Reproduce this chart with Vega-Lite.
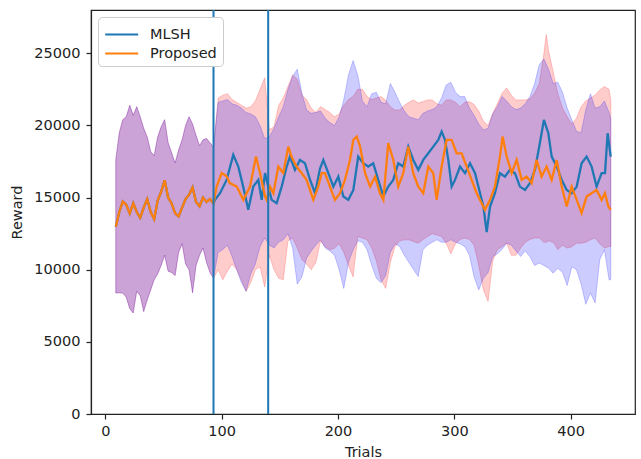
{
  "$schema": "https://vega.github.io/schema/vega-lite/v6.json",
  "width": 544,
  "height": 404,
  "autosize": {"type": "none"},
  "padding": {"left": 91, "top": 10, "right": 6, "bottom": 45},
  "background": "white",
  "datasets": {
    "bandP": [
      {"x":9,"lo":8380,"hi":17610},{"x":12,"lo":8400,"hi":19500},{"x":15,"lo":8380,"hi":20400},{"x":18,"lo":8100,"hi":20600},{"x":21,"lo":7300,"hi":21400},{"x":24,"lo":7000,"hi":20700},{"x":27,"lo":8500,"hi":21300},{"x":30,"lo":8200,"hi":20600},{"x":33,"lo":7100,"hi":19800},{"x":36,"lo":7900,"hi":19200},{"x":39,"lo":8600,"hi":18200},{"x":42,"lo":9300,"hi":17900},{"x":45,"lo":9700,"hi":19200},{"x":48,"lo":10300,"hi":19900},{"x":51,"lo":11000,"hi":20400},{"x":54,"lo":9900,"hi":18800},{"x":57,"lo":9800,"hi":18100},{"x":60,"lo":9600,"hi":17400},{"x":63,"lo":11200,"hi":18300},{"x":66,"lo":11800,"hi":19000},{"x":69,"lo":10400,"hi":20000},{"x":72,"lo":10000,"hi":20600},{"x":75,"lo":8400,"hi":20100},{"x":78,"lo":10300,"hi":19300},{"x":81,"lo":11000,"hi":18600},{"x":84,"lo":11500,"hi":19000},{"x":87,"lo":10500,"hi":19100},{"x":90,"lo":9800,"hi":18800},{"x":93,"lo":9400,"hi":18500},
      {"x":97,"lo":10000,"hi":21900},{"x":101,"lo":9300,"hi":22100},{"x":105,"lo":9900,"hi":22200},{"x":109,"lo":10400,"hi":21800},{"x":113,"lo":10000,"hi":21600},{"x":117,"lo":9300,"hi":21400},{"x":121,"lo":8500,"hi":21200},{"x":125,"lo":9100,"hi":21300},{"x":129,"lo":10000,"hi":21700},{"x":133,"lo":10200,"hi":22500},{"x":137,"lo":8800,"hi":23300},{"x":141,"lo":11000,"hi":19700},{"x":145,"lo":10000,"hi":19900},{"x":149,"lo":9400,"hi":21400},{"x":153,"lo":9300,"hi":21900},{"x":157,"lo":12000,"hi":22700},{"x":161,"lo":12200,"hi":23500},{"x":165,"lo":11500,"hi":23200},{"x":169,"lo":10700,"hi":22100},{"x":173,"lo":10400,"hi":21800},{"x":177,"lo":10000,"hi":21200},{"x":181,"lo":10500,"hi":20900},{"x":185,"lo":12000,"hi":21300},{"x":189,"lo":11600,"hi":21100},{"x":193,"lo":11380,"hi":20900},{"x":197,"lo":11500,"hi":20600},{"x":201,"lo":11800,"hi":20800},{"x":205,"lo":11200,"hi":21400},{"x":209,"lo":10300,"hi":21800},{"x":213,"lo":9500,"hi":22000},{"x":217,"lo":12300,"hi":22500},{"x":221,"lo":12200,"hi":22500},{"x":225,"lo":12070,"hi":22000},{"x":229,"lo":11500,"hi":21800},{"x":233,"lo":10600,"hi":21900},{"x":237,"lo":9300,"hi":22000},{"x":241,"lo":8700,"hi":21750},{"x":245,"lo":10500,"hi":21300},{"x":249,"lo":11600,"hi":21070},{"x":253,"lo":12000,"hi":21070},{"x":257,"lo":12070,"hi":21400},{"x":261,"lo":12070,"hi":21600},{"x":265,"lo":11950,"hi":21770},{"x":269,"lo":11840,"hi":21550},{"x":273,"lo":12070,"hi":21650},{"x":277,"lo":12300,"hi":21770},{"x":281,"lo":12500,"hi":21770},{"x":285,"lo":12400,"hi":21500},{"x":289,"lo":12300,"hi":21400},{"x":293,"lo":11840,"hi":21770},{"x":297,"lo":11100,"hi":21770},{"x":301,"lo":11800,"hi":21600},{"x":305,"lo":12100,"hi":21300},{"x":309,"lo":12200,"hi":21600},{"x":313,"lo":12100,"hi":21650},{"x":317,"lo":11700,"hi":21450},{"x":321,"lo":10300,"hi":21000},{"x":325,"lo":8600,"hi":20300},{"x":329,"lo":7800,"hi":20000},{"x":333,"lo":10600,"hi":20840},{"x":337,"lo":11400,"hi":21500},{"x":341,"lo":11600,"hi":22230},{"x":345,"lo":11840,"hi":22600},{"x":349,"lo":11000,"hi":22100},{"x":353,"lo":11000,"hi":21770},{"x":357,"lo":11500,"hi":21770},{"x":361,"lo":11900,"hi":21770},{"x":365,"lo":12100,"hi":21850},{"x":369,"lo":12200,"hi":22230},{"x":373,"lo":12200,"hi":22900},{"x":377,"lo":11900,"hi":25000},{"x":379,"lo":11900,"hi":26300},{"x":381,"lo":12000,"hi":25200},{"x":385,"lo":11900,"hi":23700},{"x":389,"lo":11400,"hi":22200},{"x":393,"lo":11700,"hi":21200},{"x":397,"lo":11500,"hi":20600},{"x":401,"lo":11600,"hi":20100},{"x":405,"lo":11840,"hi":20500},{"x":409,"lo":11840,"hi":21300},{"x":413,"lo":11900,"hi":21700},{"x":417,"lo":12070,"hi":21900},{"x":421,"lo":12200,"hi":22100},{"x":425,"lo":11800,"hi":22460},{"x":429,"lo":11500,"hi":22700},{"x":433,"lo":11610,"hi":22500},{"x":434.5,"lo":11610,"hi":21770}
    ],
    "bandM": [
      {"x":9,"lo":8380,"hi":17610},{"x":12,"lo":8400,"hi":19500},{"x":15,"lo":8380,"hi":20400},{"x":18,"lo":8100,"hi":20600},{"x":21,"lo":7300,"hi":21400},{"x":24,"lo":7000,"hi":20700},{"x":27,"lo":8500,"hi":21300},{"x":30,"lo":8200,"hi":20600},{"x":33,"lo":7100,"hi":19800},{"x":36,"lo":7900,"hi":19200},{"x":39,"lo":8600,"hi":18200},{"x":42,"lo":9300,"hi":17900},{"x":45,"lo":9700,"hi":19200},{"x":48,"lo":10300,"hi":19900},{"x":51,"lo":11000,"hi":20400},{"x":54,"lo":9900,"hi":18800},{"x":57,"lo":9800,"hi":18100},{"x":60,"lo":9600,"hi":17400},{"x":63,"lo":11200,"hi":18300},{"x":66,"lo":11800,"hi":19000},{"x":69,"lo":10400,"hi":20000},{"x":72,"lo":10000,"hi":20600},{"x":75,"lo":8400,"hi":20100},{"x":78,"lo":10300,"hi":19300},{"x":81,"lo":11000,"hi":18600},{"x":84,"lo":11500,"hi":19000},{"x":87,"lo":10500,"hi":19100},{"x":90,"lo":9800,"hi":18800},{"x":93,"lo":9400,"hi":18500},
      {"x":97,"lo":11200,"hi":21600},{"x":101,"lo":11400,"hi":21700},{"x":105,"lo":11700,"hi":21800},{"x":109,"lo":10900,"hi":21500},{"x":113,"lo":10000,"hi":21400},{"x":117,"lo":9100,"hi":21200},{"x":121,"lo":8500,"hi":20900},{"x":125,"lo":9700,"hi":20800},{"x":129,"lo":10400,"hi":20600},{"x":133,"lo":11600,"hi":20000},{"x":137,"lo":12200,"hi":19100},{"x":141,"lo":11700,"hi":19200},{"x":145,"lo":11500,"hi":19800},{"x":149,"lo":11900,"hi":20600},{"x":153,"lo":12070,"hi":21300},{"x":157,"lo":12500,"hi":22500},{"x":161,"lo":11500,"hi":23400},{"x":165,"lo":9000,"hi":23900},{"x":169,"lo":9500,"hi":22230},{"x":173,"lo":10800,"hi":21070},{"x":177,"lo":11300,"hi":20840},{"x":181,"lo":11700,"hi":20900},{"x":185,"lo":12070,"hi":21000},{"x":189,"lo":11500,"hi":20500},{"x":193,"lo":11300,"hi":20200},{"x":197,"lo":11000,"hi":20000},{"x":201,"lo":10000,"hi":20600},{"x":205,"lo":8700,"hi":21800},{"x":209,"lo":10500,"hi":23500},{"x":213,"lo":11380,"hi":24500},{"x":217,"lo":12000,"hi":23500},{"x":221,"lo":11900,"hi":21700},{"x":225,"lo":11380,"hi":21300},{"x":229,"lo":10300,"hi":22200},{"x":233,"lo":9400,"hi":22300},{"x":237,"lo":9100,"hi":21600},{"x":241,"lo":9600,"hi":21500},{"x":245,"lo":11200,"hi":22900},{"x":249,"lo":11800,"hi":22300},{"x":253,"lo":11610,"hi":21600},{"x":257,"lo":11000,"hi":21000},{"x":261,"lo":10500,"hi":20600},{"x":265,"lo":9990,"hi":20500},{"x":269,"lo":9530,"hi":20400},{"x":273,"lo":11380,"hi":20840},{"x":277,"lo":11700,"hi":21000},{"x":281,"lo":11900,"hi":21100},{"x":285,"lo":12070,"hi":21300},{"x":289,"lo":11900,"hi":21900},{"x":293,"lo":11900,"hi":22800},{"x":297,"lo":12070,"hi":23000},{"x":301,"lo":11900,"hi":22300},{"x":305,"lo":11800,"hi":22000},{"x":309,"lo":11600,"hi":22000},{"x":313,"lo":11000,"hi":21200},{"x":317,"lo":9500,"hi":20700},{"x":321,"lo":8600,"hi":20100},{"x":325,"lo":9400,"hi":19690},{"x":329,"lo":9800,"hi":19800},{"x":333,"lo":10900,"hi":20800},{"x":337,"lo":11100,"hi":21300},{"x":341,"lo":11400,"hi":22000},{"x":345,"lo":11840,"hi":21700},{"x":349,"lo":11700,"hi":21300},{"x":353,"lo":11300,"hi":21100},{"x":357,"lo":10920,"hi":21200},{"x":361,"lo":11300,"hi":21500},{"x":365,"lo":10900,"hi":22000},{"x":369,"lo":10300,"hi":22900},{"x":373,"lo":10460,"hi":24200},{"x":377,"lo":10300,"hi":24600},{"x":381,"lo":10100,"hi":23900},{"x":385,"lo":9760,"hi":22900},{"x":389,"lo":10100,"hi":23000},{"x":393,"lo":9800,"hi":22300},{"x":397,"lo":8900,"hi":21200},{"x":401,"lo":10200,"hi":20400},{"x":405,"lo":10000,"hi":19600},{"x":409,"lo":9000,"hi":19500},{"x":413,"lo":7600,"hi":21100},{"x":417,"lo":8380,"hi":22200},{"x":421,"lo":7690,"hi":21200},{"x":425,"lo":10690,"hi":21300},{"x":429,"lo":11380,"hi":21700},{"x":433,"lo":9300,"hi":20900},{"x":434.5,"lo":9300,"hi":20500}
    ],
    "lines": [
      {"s":"MLSH","x":9,"v":12970},{"s":"MLSH","x":12,"v":14000},{"s":"MLSH","x":15,"v":14720},{"s":"MLSH","x":18,"v":14500},{"s":"MLSH","x":21,"v":13900},{"s":"MLSH","x":24,"v":14600},{"s":"MLSH","x":27,"v":14000},{"s":"MLSH","x":30,"v":13600},{"s":"MLSH","x":33,"v":14300},{"s":"MLSH","x":36,"v":14900},{"s":"MLSH","x":39,"v":14000},{"s":"MLSH","x":42,"v":13500},{"s":"MLSH","x":45,"v":14800},{"s":"MLSH","x":48,"v":15400},{"s":"MLSH","x":51,"v":16200},{"s":"MLSH","x":54,"v":15000},{"s":"MLSH","x":57,"v":14600},{"s":"MLSH","x":60,"v":13900},{"s":"MLSH","x":63,"v":13700},{"s":"MLSH","x":66,"v":14300},{"s":"MLSH","x":69,"v":14900},{"s":"MLSH","x":72,"v":15200},{"s":"MLSH","x":75,"v":15700},{"s":"MLSH","x":78,"v":14700},{"s":"MLSH","x":81,"v":14400},{"s":"MLSH","x":84,"v":15000},{"s":"MLSH","x":87,"v":14700},{"s":"MLSH","x":90,"v":14900},{"s":"MLSH","x":93,"v":14600},
      {"s":"MLSH","x":94.3,"v":14840},{"s":"MLSH","x":98.6,"v":15300},{"s":"MLSH","x":104.3,"v":16225},{"s":"MLSH","x":110,"v":17960},{"s":"MLSH","x":114.3,"v":17150},{"s":"MLSH","x":118.5,"v":15760},{"s":"MLSH","x":122.9,"v":14150},{"s":"MLSH","x":127.2,"v":15760},{"s":"MLSH","x":131.5,"v":16225},{"s":"MLSH","x":134.4,"v":14840},{"s":"MLSH","x":137.3,"v":16700},{"s":"MLSH","x":140,"v":15760},{"s":"MLSH","x":143,"v":14840},{"s":"MLSH","x":147.3,"v":14610},{"s":"MLSH","x":151.6,"v":15760},{"s":"MLSH","x":155.9,"v":17150},{"s":"MLSH","x":158.7,"v":17840},{"s":"MLSH","x":163,"v":16920},{"s":"MLSH","x":167.3,"v":17610},{"s":"MLSH","x":171.6,"v":17380},{"s":"MLSH","x":176,"v":16225},{"s":"MLSH","x":180.3,"v":15300},{"s":"MLSH","x":184.5,"v":17000},{"s":"MLSH","x":187.4,"v":17610},{"s":"MLSH","x":191.7,"v":16690},{"s":"MLSH","x":196,"v":15760},{"s":"MLSH","x":200.3,"v":16450},{"s":"MLSH","x":204.6,"v":15070},{"s":"MLSH","x":208.9,"v":14840},{"s":"MLSH","x":213.2,"v":15530},{"s":"MLSH","x":217.4,"v":17840},{"s":"MLSH","x":221.7,"v":17380},{"s":"MLSH","x":226,"v":17150},{"s":"MLSH","x":230.3,"v":17380},{"s":"MLSH","x":234.6,"v":16225},{"s":"MLSH","x":238.9,"v":15070},{"s":"MLSH","x":243.2,"v":15760},{"s":"MLSH","x":247.5,"v":16225},{"s":"MLSH","x":251.8,"v":17380},{"s":"MLSH","x":256.1,"v":17150},{"s":"MLSH","x":260.4,"v":18530},{"s":"MLSH","x":264.7,"v":17610},{"s":"MLSH","x":269,"v":16920},{"s":"MLSH","x":273.3,"v":17610},{"s":"MLSH","x":277.6,"v":18070},{"s":"MLSH","x":281.9,"v":18530},{"s":"MLSH","x":286.2,"v":19000},{"s":"MLSH","x":289.1,"v":19570},{"s":"MLSH","x":292,"v":19000},{"s":"MLSH","x":294.8,"v":17610},{"s":"MLSH","x":297.7,"v":15760},{"s":"MLSH","x":300.6,"v":16225},{"s":"MLSH","x":304.9,"v":17150},{"s":"MLSH","x":309.2,"v":16690},{"s":"MLSH","x":313.5,"v":17380},{"s":"MLSH","x":317.8,"v":16690},{"s":"MLSH","x":322.1,"v":15300},{"s":"MLSH","x":325,"v":14380},{"s":"MLSH","x":327.8,"v":12600},{"s":"MLSH","x":330.7,"v":14380},{"s":"MLSH","x":334.9,"v":15300},{"s":"MLSH","x":339.2,"v":16690},{"s":"MLSH","x":343.5,"v":16450},{"s":"MLSH","x":347.8,"v":16920},{"s":"MLSH","x":352.1,"v":16690},{"s":"MLSH","x":356.4,"v":15760},{"s":"MLSH","x":360.7,"v":15530},{"s":"MLSH","x":365,"v":16000},{"s":"MLSH","x":369.3,"v":16920},{"s":"MLSH","x":373.5,"v":18770},{"s":"MLSH","x":377,"v":20380},{"s":"MLSH","x":380.8,"v":19460},{"s":"MLSH","x":383.7,"v":17840},{"s":"MLSH","x":388,"v":17150},{"s":"MLSH","x":392.3,"v":16225},{"s":"MLSH","x":396.6,"v":15530},{"s":"MLSH","x":400.9,"v":15300},{"s":"MLSH","x":405.2,"v":15760},{"s":"MLSH","x":409.4,"v":17380},{"s":"MLSH","x":413.7,"v":17840},{"s":"MLSH","x":418,"v":17150},{"s":"MLSH","x":422.3,"v":15760},{"s":"MLSH","x":426.6,"v":16690},{"s":"MLSH","x":429.5,"v":16690},{"s":"MLSH","x":431.8,"v":19460},{"s":"MLSH","x":434.4,"v":17840},
      {"s":"Proposed","x":9,"v":12970},{"s":"Proposed","x":12,"v":14000},{"s":"Proposed","x":15,"v":14720},{"s":"Proposed","x":18,"v":14500},{"s":"Proposed","x":21,"v":13900},{"s":"Proposed","x":24,"v":14600},{"s":"Proposed","x":27,"v":14000},{"s":"Proposed","x":30,"v":13600},{"s":"Proposed","x":33,"v":14300},{"s":"Proposed","x":36,"v":14900},{"s":"Proposed","x":39,"v":14000},{"s":"Proposed","x":42,"v":13500},{"s":"Proposed","x":45,"v":14800},{"s":"Proposed","x":48,"v":15400},{"s":"Proposed","x":51,"v":16200},{"s":"Proposed","x":54,"v":15000},{"s":"Proposed","x":57,"v":14600},{"s":"Proposed","x":60,"v":13900},{"s":"Proposed","x":63,"v":13700},{"s":"Proposed","x":66,"v":14300},{"s":"Proposed","x":69,"v":14900},{"s":"Proposed","x":72,"v":15200},{"s":"Proposed","x":75,"v":15700},{"s":"Proposed","x":78,"v":14700},{"s":"Proposed","x":81,"v":14400},{"s":"Proposed","x":84,"v":15000},{"s":"Proposed","x":87,"v":14700},{"s":"Proposed","x":90,"v":14900},{"s":"Proposed","x":93,"v":14600},
      {"s":"Proposed","x":95.7,"v":15760},{"s":"Proposed","x":100,"v":16700},{"s":"Proposed","x":104.3,"v":16470},{"s":"Proposed","x":107,"v":16000},{"s":"Proposed","x":113,"v":15760},{"s":"Proposed","x":118.6,"v":14840},{"s":"Proposed","x":124.4,"v":15760},{"s":"Proposed","x":129.5,"v":17840},{"s":"Proposed","x":133,"v":16700},{"s":"Proposed","x":137.3,"v":15070},{"s":"Proposed","x":138.7,"v":14840},{"s":"Proposed","x":141.6,"v":15760},{"s":"Proposed","x":144.5,"v":15300},{"s":"Proposed","x":148.7,"v":17150},{"s":"Proposed","x":153,"v":16700},{"s":"Proposed","x":157.3,"v":18530},{"s":"Proposed","x":160,"v":17840},{"s":"Proposed","x":164.4,"v":17150},{"s":"Proposed","x":168.7,"v":16700},{"s":"Proposed","x":173,"v":16225},{"s":"Proposed","x":178.8,"v":14840},{"s":"Proposed","x":183,"v":15760},{"s":"Proposed","x":186,"v":16690},{"s":"Proposed","x":188.8,"v":16690},{"s":"Proposed","x":193.1,"v":15760},{"s":"Proposed","x":197.4,"v":14840},{"s":"Proposed","x":201.7,"v":15300},{"s":"Proposed","x":206,"v":16225},{"s":"Proposed","x":210.3,"v":17610},{"s":"Proposed","x":213.2,"v":19000},{"s":"Proposed","x":216.1,"v":19230},{"s":"Proposed","x":219,"v":18530},{"s":"Proposed","x":223.3,"v":16690},{"s":"Proposed","x":227.6,"v":15760},{"s":"Proposed","x":231.9,"v":16450},{"s":"Proposed","x":236.1,"v":15300},{"s":"Proposed","x":239,"v":14840},{"s":"Proposed","x":243.2,"v":18770},{"s":"Proposed","x":247.5,"v":17610},{"s":"Proposed","x":251.8,"v":15760},{"s":"Proposed","x":256.1,"v":16690},{"s":"Proposed","x":260.4,"v":18530},{"s":"Proposed","x":264.7,"v":16690},{"s":"Proposed","x":269,"v":15760},{"s":"Proposed","x":273.3,"v":15300},{"s":"Proposed","x":277.6,"v":17150},{"s":"Proposed","x":281.9,"v":16690},{"s":"Proposed","x":284.8,"v":14840},{"s":"Proposed","x":289.1,"v":17150},{"s":"Proposed","x":293.4,"v":19000},{"s":"Proposed","x":297.7,"v":19000},{"s":"Proposed","x":302,"v":18070},{"s":"Proposed","x":306.3,"v":18070},{"s":"Proposed","x":310.6,"v":17150},{"s":"Proposed","x":314.9,"v":16225},{"s":"Proposed","x":319.2,"v":15300},{"s":"Proposed","x":323.5,"v":14610},{"s":"Proposed","x":326.3,"v":14150},{"s":"Proposed","x":330.7,"v":14840},{"s":"Proposed","x":334.9,"v":15760},{"s":"Proposed","x":339.2,"v":17840},{"s":"Proposed","x":341.5,"v":19230},{"s":"Proposed","x":345,"v":17840},{"s":"Proposed","x":349.3,"v":16690},{"s":"Proposed","x":353.6,"v":17610},{"s":"Proposed","x":357.9,"v":16225},{"s":"Proposed","x":362.2,"v":16450},{"s":"Proposed","x":366.5,"v":16000},{"s":"Proposed","x":370.7,"v":17610},{"s":"Proposed","x":375,"v":16450},{"s":"Proposed","x":379.3,"v":17150},{"s":"Proposed","x":383.7,"v":16225},{"s":"Proposed","x":388,"v":17610},{"s":"Proposed","x":392.3,"v":15760},{"s":"Proposed","x":396.6,"v":14380},{"s":"Proposed","x":400.9,"v":15760},{"s":"Proposed","x":405.2,"v":14840},{"s":"Proposed","x":409.4,"v":13920},{"s":"Proposed","x":413.7,"v":15070},{"s":"Proposed","x":418,"v":15300},{"s":"Proposed","x":422.3,"v":15530},{"s":"Proposed","x":426.6,"v":14840},{"s":"Proposed","x":429.5,"v":15300},{"s":"Proposed","x":432.4,"v":14380},{"s":"Proposed","x":434.4,"v":14150}
    ],
    "vlines": [{"t": 93}, {"t": 140}]
  },
  "layer": [
    {
      "data": {"name": "bandP"},
      "mark": {"type": "area", "fill": "#ff0000", "fillOpacity": 0.2, "stroke": "#ff0000", "strokeOpacity": 0.2, "strokeWidth": 1},
      "encoding": {
        "x": {"field": "x", "type": "quantitative", "scale": {"domain": [-12.3, 455.3], "nice": false, "zero": false}, "axis": {"values": [0, 100, 200, 300, 400], "title": "Trials"}},
        "y": {"field": "lo", "type": "quantitative", "scale": {"domain": [0, 28000], "nice": false}, "axis": {"values": [0, 5000, 10000, 15000, 20000, 25000], "format": "d", "title": "Reward"}},
        "y2": {"field": "hi"}
      }
    },
    {
      "data": {"name": "bandM"},
      "mark": {"type": "area", "fill": "#0000ff", "fillOpacity": 0.2, "stroke": "#0000ff", "strokeOpacity": 0.2, "strokeWidth": 1},
      "encoding": {
        "x": {"field": "x", "type": "quantitative", "title": "Trials"},
        "y": {"field": "lo", "type": "quantitative", "title": "Reward"},
        "y2": {"field": "hi"}
      }
    },
    {
      "data": {"name": "lines"},
      "mark": {"type": "line", "strokeWidth": 2.3},
      "encoding": {
        "x": {"field": "x", "type": "quantitative", "title": "Trials"},
        "y": {"field": "v", "type": "quantitative", "title": "Reward"},
        "color": {
          "field": "s", "type": "nominal",
          "scale": {"domain": ["MLSH", "Proposed"], "range": ["#1f77b4", "#ff7f0e"]},
          "legend": {"title": null, "orient": "top-left", "offset": 7, "symbolType": "M-1,0H2.2", "symbolSize": 425, "symbolStrokeWidth": 2.2, "labelFontSize": 14.5, "labelOffset": 23, "fillColor": "white", "strokeColor": "#cccccc", "cornerRadius": 4, "padding": 6, "rowPadding": 1, "labelColor": "#222222", "labelFont": "DejaVu Sans"}
        }
      }
    },
    {
      "data": {"name": "vlines"},
      "mark": {"type": "rule", "color": "#1f77b4", "strokeWidth": 2},
      "encoding": {
        "x": {"field": "t", "type": "quantitative", "title": "Trials"}
      }
    }
  ],
  "config": {
    "font": "DejaVu Sans",
    "view": {"stroke": "#222222", "strokeWidth": 1.2},
    "axis": {"grid": false, "labelFont": "DejaVu Sans", "titleFont": "DejaVu Sans", "labelFontSize": 14.5, "titleFontSize": 14.5, "titleFontWeight": "normal", "labelColor": "#222222", "titleColor": "#222222", "domainColor": "#222222", "tickColor": "#222222", "tickSize": 5, "domainWidth": 1.2, "tickWidth": 1.2, "labelFlush": false, "labelOverlap": false},
    "axisX": {"labelPadding": 5, "titlePadding": 8},
    "axisY": {"labelPadding": 6, "titlePadding": 9}
  }
}
